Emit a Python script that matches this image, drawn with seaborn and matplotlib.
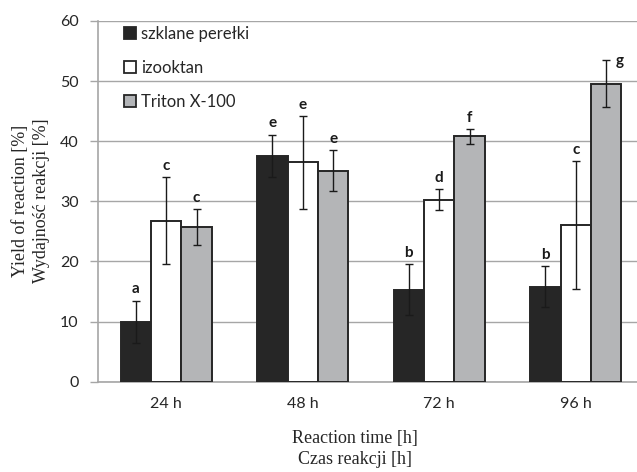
import numpy as np
import pandas as pd
import matplotlib
matplotlib.use('Agg')
import matplotlib.pyplot as plt
import seaborn as sns
from matplotlib.patches import Patch

# data
times = ['24 h', '48 h', '72 h', '96 h']
media = ['szklane perełki', 'izooktan', 'Triton X-100']
yield_glass = [10.0, 37.6, 15.3, 15.8]
yield_iso = [26.8, 36.5, 30.3, 26.1]
yield_triton = [25.7, 35.1, 40.8, 49.6]
err_glass = [3.5, 3.5, 4.2, 3.4]
err_iso = [7.3, 7.7, 1.8, 10.6]
err_triton = [3.0, 3.4, 1.2, 3.9]
letters_glass = ['a', 'e', 'b', 'b']
letters_iso = ['c', 'e', 'd', 'c']
letters_triton = ['c', 'e', 'f', 'g']

colors = ['#262626', '#ffffff', '#b3b5b8']
edge = '#262626'
axis_grey = '#a6a6a6'

df = pd.DataFrame({
    'time': times * 3,
    'medium': [m for m in media for _ in times],
    'value': yield_glass + yield_iso + yield_triton,
})
errs = [err_glass, err_iso, err_triton]
letters = [letters_glass, letters_iso, letters_triton]

sns.set_style('white')
plt.rcParams['font.family'] = ['Lato', 'DejaVu Sans']

fig = plt.figure(figsize=(6.37, 4.72), dpi=100)
ax = fig.add_axes([98 / 637, 1 - 381.7 / 472, 546 / 637, 360.7 / 472])

sns.barplot(data=df, x='time', y='value', hue='medium', hue_order=media,
            order=times, palette=colors, width=0.667, errorbar=None,
            edgecolor=edge, linewidth=1.4, ax=ax, legend=False, zorder=3)

bar_conts = list(ax.containers)
for i, cont in enumerate(bar_conts):
    xs = [p.get_x() + p.get_width() / 2 for p in cont.patches]
    ys = [p.get_height() for p in cont.patches]
    ax.errorbar(xs, ys, yerr=errs[i], fmt='none', ecolor='#1a1a1a',
                elinewidth=1.0, capsize=3, capthick=1.0, zorder=4)
    for j, (x, y) in enumerate(zip(xs, ys)):
        top = y + errs[i][j]
        if letters[i][j] == 'g':
            ax.annotate(letters[i][j], (x, top), xytext=(7, -6),
                        textcoords='offset points', ha='left', va='bottom',
                        fontsize=11, fontweight='bold', color='#1a1a1a')
        else:
            ax.annotate(letters[i][j], (x, top), xytext=(0, 3),
                        textcoords='offset points', ha='center', va='bottom',
                        fontsize=11, fontweight='bold', color='#1a1a1a')

ax.set_xlim(-0.5, 3.5)
ax.set_ylim(0, 60)
ax.set_yticks(range(0, 61, 10))
ax.yaxis.grid(True, color=axis_grey, linewidth=1.0, zorder=0)
ax.set_axisbelow(True)
ax.set_xticks(np.arange(-0.5, 3.6, 1), minor=True)
ax.tick_params(axis='x', which='major', length=0, pad=11, labelsize=11.5)
ax.tick_params(axis='x', which='minor', length=5, color=axis_grey, width=1)
ax.tick_params(axis='y', length=6, color=axis_grey, width=1, pad=8,
               labelsize=11.5, left=True)
for lab in ax.get_xticklabels() + ax.get_yticklabels():
    lab.set_color('#262626')
sns.despine(ax=ax, top=True, right=True)
for s in ['left', 'bottom']:
    ax.spines[s].set_color(axis_grey)
    ax.spines[s].set_linewidth(1.2)
ax.set_xlabel('')
ax.set_ylabel('')

handles = [Patch(facecolor=c, edgecolor=edge, linewidth=1.3) for c in colors]
ax.legend(handles, media, loc='upper left', bbox_to_anchor=(0.027, 1.018),
          frameon=False, fontsize=12, handlelength=0.72, handleheight=0.72,
          handletextpad=0.25, labelspacing=1.08, borderaxespad=0.3)

fig.text(31 / 637, 1 - 201 / 472, 'Yield of reaction [%]\nWydajność reakcji [%]',
         rotation=90, ha='center', va='center', fontsize=13,
         family='Liberation Serif', linespacing=1.3)
fig.text(355 / 637, 1 - 449 / 472, 'Reaction time [h]\nCzas reakcji [h]',
         ha='center', va='center', fontsize=13, family='Liberation Serif',
         linespacing=1.3)

fig.savefig('out.png', dpi=100)
